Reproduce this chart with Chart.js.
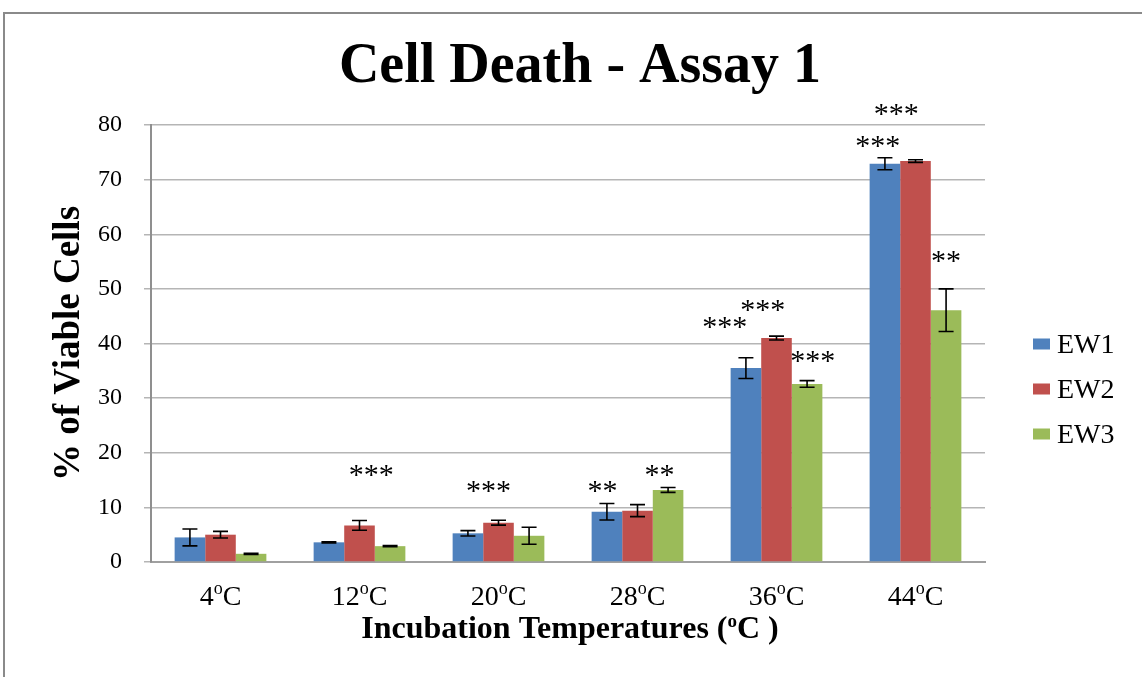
<!DOCTYPE html>
<html>
<head>
<meta charset="utf-8">
<script src="https://cdn.jsdelivr.net/npm/chart.js@4"></script>
<style>
  html, body { margin: 0; padding: 0; background: #fff; overflow: hidden; }
  #wrap { position: relative; width: 1142px; height: 677px; }
  #frame { position: absolute; left: 3px; top: 12px; width: 1200px; height: 700px;
           border-top: 2px solid #8a8a8a; border-left: 2px solid #8a8a8a; }
  canvas { position: absolute; left: 0; top: 0; }
</style>
</head>
<body>
<div id="wrap">
  <div id="frame"></div>
  <canvas id="c" width="1142" height="677"></canvas>
</div>
<script>
// Incubation temperatures (°C) and category labels
const temps = [4, 12, 20, 28, 36, 44];
const categories = temps.map(t => t + '°C');

// Series: % of viable cells per extract
const seriesNames = ['EW1', 'EW2', 'EW3'];
const ew1 = [4.5, 3.6, 5.25, 9.2, 35.5, 72.9];
const ew2 = [5.0, 6.7, 7.2, 9.4, 41.0, 73.4];
const ew3 = [1.5, 2.9, 4.8, 13.2, 32.6, 46.1];

// Error bar half-widths (±)
const ew1Err = [1.55, 0.1, 0.5, 1.5, 1.9, 1.1];
const ew2Err = [0.6, 0.9, 0.45, 1.1, 0.35, 0.25];
const ew3Err = [0.1, 0.1, 1.55, 0.45, 0.6, 3.9];

// Value-axis ticks
const yTicks = [0, 10, 20, 30, 40, 50, 60, 70, 80];

// Significance marks: category position, height on the value axis, text
const sigPos  = [1.084, 1.928, 2.749, 3.159, 3.628, 3.901, 4.261, 4.728, 4.861, 5.219];
const sigY    = [16.8, 13.8, 13.8, 16.8, 43.9, 46.9, 37.7, 76.9, 82.9, 55.9];
const sigText = ['***', '***', '**', '**', '***', '***', '***', '***', '***', '**'];

const colors = ['#4F81BD', '#C0504D', '#9BBB59'];
const values = [ew1, ew2, ew3];
const errors = [ew1Err, ew2Err, ew3Err];

const SERIF = '"Liberation Serif", "Times New Roman", serif';

function drawSup(ctx, parts, cx, baseline, size, supSize, supRise, weight) {
  // parts: [main, sup, main]
  ctx.font = weight + ' ' + size + 'px ' + SERIF;
  const w0 = ctx.measureText(parts[0]).width;
  const w2 = ctx.measureText(parts[2]).width;
  ctx.font = weight + ' ' + supSize + 'px ' + SERIF;
  const w1 = ctx.measureText(parts[1]).width;
  let x = cx - (w0 + w1 + w2) / 2;
  ctx.textAlign = 'left';
  ctx.textBaseline = 'alphabetic';
  ctx.font = weight + ' ' + size + 'px ' + SERIF;
  ctx.fillText(parts[0], x, baseline);
  x += w0;
  ctx.font = weight + ' ' + supSize + 'px ' + SERIF;
  ctx.fillText(parts[1], x, baseline - supRise);
  x += w1;
  ctx.font = weight + ' ' + size + 'px ' + SERIF;
  ctx.fillText(parts[2], x, baseline);
}

const errorBars = {
  id: 'errorBars',
  afterDatasetsDraw(chart) {
    const ctx = chart.ctx;
    const ys = chart.scales.y;
    ctx.save();
    ctx.strokeStyle = '#000';
    ctx.lineWidth = 1.6;
    chart.data.datasets.forEach((ds, i) => {
      const meta = chart.getDatasetMeta(i);
      meta.data.forEach((bar, j) => {
        const v = values[i][j], e = errors[i][j];
        const yTop = ys.getPixelForValue(v + e);
        const yBot = ys.getPixelForValue(v - e);
        const x = bar.x, cap = 7.5;
        ctx.beginPath();
        ctx.moveTo(x, yTop); ctx.lineTo(x, yBot);
        ctx.moveTo(x - cap, yTop); ctx.lineTo(x + cap, yTop);
        ctx.moveTo(x - cap, yBot); ctx.lineTo(x + cap, yBot);
        ctx.stroke();
      });
    });
    ctx.restore();
  }
};

const decorations = {
  id: 'decorations',
  afterDraw(chart) {
    const ctx = chart.ctx;
    const xs = chart.scales.x, ys = chart.scales.y;
    ctx.save();
    ctx.fillStyle = '#000';

    // Chart title
    ctx.font = 'bold 56px ' + SERIF;
    ctx.textAlign = 'center';
    ctx.textBaseline = 'alphabetic';
    ctx.fillText('Cell Death - Assay 1', 580, 82);

    // Category labels with superscript degree mark
    temps.forEach((t, i) => {
      drawSup(ctx, [String(t), 'o', 'C'], xs.getPixelForValue(i), 605, 28, 18, 11, 'normal');
    });

    // Category axis title
    drawSup(ctx, ['Incubation Temperatures (', 'o', 'C )'], 570, 638, 32, 19, 11, 'bold');

    // Significance asterisks
    ctx.font = '30px ' + SERIF;
    ctx.textAlign = 'center';
    ctx.textBaseline = 'alphabetic';
    const m = ctx.measureText('*');
    const shift = (m.actualBoundingBoxDescent - m.actualBoundingBoxAscent) / 2;
    sigText.forEach((s, k) => {
      const x = xs.getPixelForValue(sigPos[k]);
      const yc = ys.getPixelForValue(sigY[k]);
      ctx.fillText(s, x, yc - shift);
    });

    // Legend
    ctx.font = '28px ' + SERIF;
    ctx.textAlign = 'left';
    seriesNames.forEach((name, i) => {
      const rowY = 344 + i * 45;
      ctx.fillStyle = colors[i];
      ctx.fillRect(1033, rowY - 5.5, 17, 11);
      ctx.fillStyle = '#000';
      ctx.fillText(name, 1057, rowY + 9.3);
    });
    ctx.restore();
  }
};

new Chart(document.getElementById('c'), {
  type: 'bar',
  data: {
    labels: categories,
    datasets: seriesNames.map((name, i) => ({
      label: name,
      data: values[i],
      backgroundColor: colors[i],
      borderWidth: 0,
      categoryPercentage: 0.66,
      barPercentage: 1.0
    }))
  },
  options: {
    responsive: false,
    animation: false,
    devicePixelRatio: 1,
    layout: { padding: { top: 125, right: 157, bottom: 0, left: 0 } },
    plugins: {
      legend: { display: false },
      title: { display: false },
      tooltip: { enabled: false }
    },
    scales: {
      x: {
        grid: { display: false },
        border: { display: true, color: '#a0a0a0', width: 2 },
        ticks: { display: false },
        afterFit(scale) { scale.height = 115; }
      },
      y: {
        min: 0,
        max: 80,
        afterBuildTicks(scale) { scale.ticks = yTicks.map(v => ({ value: v })); },
        grid: { color: '#b5b5b5', lineWidth: 1.5, tickLength: 7, drawTicks: true },
        border: { display: true, color: '#8f8f8f', width: 2 },
        ticks: {
          padding: 22,
          color: '#000',
          font: { family: SERIF, size: 24 }
        },
        title: {
          display: true,
          text: '% of Viable Cells',
          color: '#000',
          font: { family: SERIF, size: 37, weight: 'bold' },
          padding: { top: 47, bottom: 0 }
        },
        afterFit(scale) { scale.width = 151; }
      }
    }
  },
  plugins: [errorBars, decorations]
});
</script>
</body>
</html>
